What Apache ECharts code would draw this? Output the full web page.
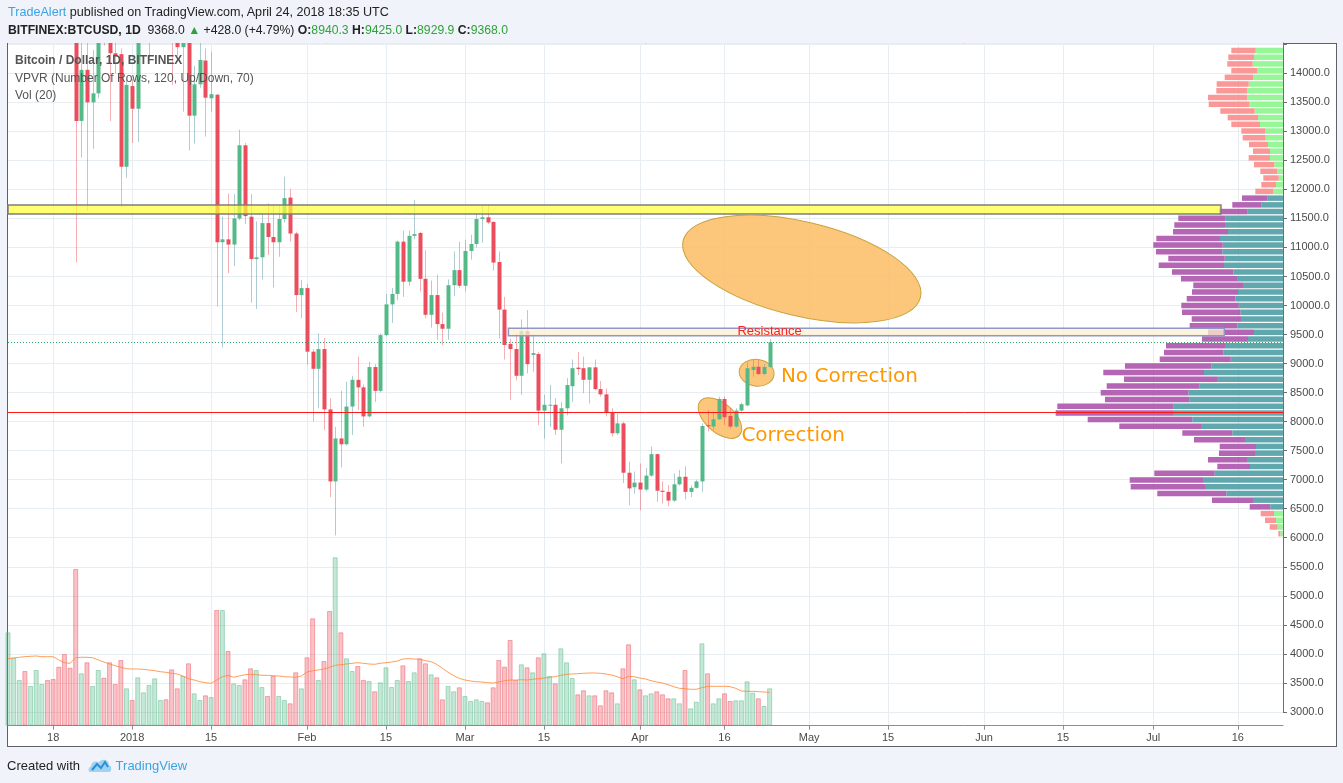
<!DOCTYPE html>
<html>
<head>
<meta charset="utf-8">
<script src="https://cdn.jsdelivr.net/npm/echarts/dist/echarts.min.js"></script>
<style>
html,body{margin:0;padding:0;width:1343px;height:783px;overflow:hidden;background:#f0f3fa;font-family:"Liberation Sans",Arial,sans-serif;}
#box{position:absolute;left:7px;top:43px;width:1328px;height:702px;background:#fff;border:1px solid #5d606b;}
#chart{position:absolute;left:0;top:0;width:1343px;height:783px;}
.hdr{position:absolute;left:8px;color:#222;white-space:nowrap;line-height:16px;}
.g{color:#2fa23a;}
#foot{position:absolute;left:7px;top:757px;font-size:13px;color:#222;white-space:nowrap;line-height:16px;}
#foot .tv{color:#3ba3e3;}
</style>
</head>
<body>
<div id="box"></div>
<div id="chart"></div>
<div class="hdr" style="top:4px;font-size:12.6px"><span style="color:#3ba3e3">TradeAlert</span> published on TradingView.com, April 24, 2018 18:35 UTC</div>
<div class="hdr" style="top:22px;font-size:12.2px"><b>BITFINEX:BTCUSD, 1D</b>&nbsp; 9368.0 <span class="g">&#9650;</span> +428.0 (+4.79%) <b>O:</b><span class="g">8940.3</span> <b>H:</b><span class="g">9425.0</span> <b>L:</b><span class="g">8929.9</span> <b>C:</b><span class="g">9368.0</span></div>
<div id="foot">Created with <svg width="24" height="16" viewBox="0 0 24 16" style="vertical-align:-3px;margin:0 4px 0 4px"><path d="M2 15 C0 15 0 10 3 9.5 C3 5 8 3 11 5.5 C13 1 21 2 21 8 C24 8.5 24 15 21 15 Z" fill="#9fd3f3"/><path d="M4 13 L9 7 L13 11 L17 5 L20 10" stroke="#2b8fd6" stroke-width="2" fill="none"/></svg><span class="tv">TradingView</span></div>
<script>
// ---------------- DATA ----------------
// axis categories: daily from 2017-12-10 to 2018-07-24
const axisStart = '2017-12-10';
const axisDays = 227;
// tick labels on the time axis
const tickDates = ['2017-12-18','2018-01-01','2018-01-15','2018-02-01','2018-02-15','2018-03-01','2018-03-15','2018-04-01','2018-04-16','2018-05-01','2018-05-15','2018-06-01','2018-06-15','2018-07-01','2018-07-16'];
const tickLabels = ['18','2018','15','Feb','15','Mar','15','Apr','16','May','15','Jun','15','Jul','16'];

// daily OHLC, 2017-12-10 .. 2018-04-24 (BITFINEX:BTCUSD)
const open = [15200,15300,16700,17200,16400,16500,17700,19500,19100,18900,17400,16500,15600,13180,14060,13500,13655,15800,15300,14345,14330,12390,
13780,13390,14750,15150,15160,16950,17150,16200,14950,14450,14900,13270,13810,14220,13570,13630,11090,11140,11050,11500,12760,11530,10800,10830,11420,11180,11090,11490,11860,11240,10180,
10300,9205,8910,9250,8210,6970,7710,7610,8260,8720,8590,8090,8940,8530,9490,10020,10200,11100,10410,11200,11250,10460,9840,10180,9680,9600,10350,10610,
10340,10940,11060,11490,11520,11440,10750,9930,9340,9250,8790,9560,9150,9165,8190,8275,8290,7860,8230,8610,8930,8920,8720,8935,8560,8470,8155,7800,7970,7120,6870,
6950,6830,7070,7440,6810,6790,6640,6920,7050,6790,6860,6970,7940,7915,8040,8390,8100,7915,8190,8280,8890,8945,8820,8940.3];
const high = [15800,17400,17500,17300,16900,17900,19600,19900,19200,19000,17800,17300,15800,15400,14600,14400,16500,16500,15500,15000,14430,13900,
13900,15400,15500,15400,17200,17250,17200,16300,15400,14950,14950,14130,14600,14430,14370,13650,11530,11930,11920,13030,12800,11920,11450,11590,11760,11730,11730,12220,12010,11270,10440,
10370,9250,9520,9440,8400,7910,8530,8690,8790,9120,8640,9030,8990,9520,10200,10300,11120,11290,11290,11820,11270,10950,10430,10530,9880,10450,10930,11100,
11130,11220,11590,11730,11730,11450,10930,10150,9430,9530,9760,9920,9510,9200,8460,8630,8400,8340,8750,9070,9200,9120,8940,9070,8700,8570,8230,8140,8000,7310,7140,
7280,7200,7570,7450,6970,6910,7110,7170,7230,6900,7000,7970,8200,8170,8430,8430,8230,8230,8330,9030,9060,9060,8990,9425];
const low = [14700,15100,16500,15800,16000,16300,17500,18800,17900,16800,15600,14800,10740,12550,11630,12700,13570,14480,13180,14000,11700,12200,
12800,12820,14600,14260,14800,16200,15800,13800,14300,13340,12670,12790,13750,12910,13340,9980,9280,10560,10680,11470,11400,10050,9940,10450,10870,10310,10840,11430,11100,9890,9780,
8980,8000,8230,7860,6700,6040,7210,7590,7770,8200,7910,8070,8340,8500,9470,9700,10090,10150,10340,11140,10240,9780,9620,9410,9320,9410,10160,10300,
10240,10790,11000,11080,11400,10600,9430,9070,8370,8710,8460,8830,8860,7940,7710,7910,7770,7280,8110,8340,8800,8490,8310,8540,8430,8090,7740,7770,6940,6560,6760,
6470,6800,7050,6620,6590,6540,6620,6900,6660,6700,6850,6790,7830,7860,8030,7940,7885,7900,8170,8260,8775,8800,8800,8929.9];
const close = [15300,16700,17200,16400,16500,17700,19500,19100,18900,17400,16500,15600,13180,14060,13500,13655,15800,15300,14345,14310,12390,13800,
13390,14750,15150,15160,16950,17150,16200,14950,14450,14900,13270,13810,14230,13580,13640,11090,11140,11050,11500,12760,11540,10800,10830,11420,11180,11090,11490,11850,11240,10180,10300,
9205,8910,9250,8210,6970,7710,7610,8260,8720,8590,8090,8940,8530,9490,10020,10200,11100,10410,11200,11230,10460,9840,10180,9680,9600,10350,10610,10340,
10940,11060,11490,11520,11430,10740,9930,9320,9250,8790,9560,8990,9180,8190,8290,8290,7860,8230,8630,8920,8905,8720,8935,8560,8470,8155,7800,7970,7120,6850,6950,
6830,7070,7440,6810,6790,6640,6920,7050,6790,6860,6970,7925,7920,8040,8390,8075,7915,8190,8300,8920,8945,8820,8940,9368];
// daily volume (relative units) and its 20-day average as drawn
const volume = [93.4,68,45.7,54.7,39.7,55.7,41.7,45.7,46.7,59,71.7,58,156.7,52.4,63.4,39.7,55.7,48,63.4,41.7,65.7,37.4,
25.7,48.4,33.4,40.7,47.4,25.7,26.4,56.4,37.4,49.7,62.4,32.4,25.7,30.4,28.7,115.7,115.7,74.7,42.4,40.7,46.4,57.4,55.7,38.7,29.7,49.7,29.7,25.7,22.4,53.4,37.4,
68.4,107.4,45.7,64.7,114.7,168.4,93.4,67.4,54.7,59.7,45.7,44.7,34.4,43.4,58.4,38.7,45.7,60.4,44.7,53.4,67.4,62.4,51.4,48.4,26.4,39.7,34.4,38.4,
29.7,24.7,26.4,24.7,23.4,38.4,65.7,59,85.7,45.7,61.4,58.4,53.4,68.4,72.4,49.7,42.4,77.4,63.4,47.7,31.4,35.4,30.4,30.4,20.4,35.4,33.4,22.4,57.4,81.4,46.4,
36.4,30.4,32.4,34.4,31.4,27.4,27.4,22.4,55.7,17.4,24,82.4,52.4,22.4,27.4,32.4,24.7,25.4,25.4,44.4,33,27.4,19.7,37.4];
const volMA = [67.0,67.7,68.4,69.0,69.4,69.7,69.0,69.0,69.0,65.7,63.0,62.4,68.0,68.4,68.4,68.0,65.7,63.7,61.7,60.0,58.4,57.0,
56.7,56.7,56.4,55.7,55.0,54.0,53.4,52.4,51.7,49.7,47.0,45.7,44.0,43.0,42.4,45.7,49.0,50.4,48.4,49.7,51.0,51.4,51.0,50.4,50.4,50.0,49.7,49.0,48.7,48.4,49.7,
53.7,55.0,55.7,56.7,58.4,60.4,61.0,61.7,62.4,63.0,62.4,61.7,61.4,62.4,63.0,63.7,64.7,66.7,67.0,66.7,66.4,65.0,64.0,61.4,57.4,53.4,50.0,47.4,
45.7,44.7,44.0,43.7,43.0,42.7,43.7,45.0,45.7,45.7,46.0,45.7,46.4,47.0,47.7,48.4,49.0,50.4,51.4,51.7,52.0,52.4,52.7,52.7,52.4,51.7,50.7,49.0,47.0,49.4,49.0,
47.7,46.7,45.0,43.7,42.7,41.0,39.0,37.4,37.0,36.4,36.4,38.0,39.4,39.4,39.4,39.4,39.0,37.4,34.7,34.4,34.4,34.0,33.7,33.4];
// volume profile (VPVR) rows, top row first: up volume and down volume
const vpTopPrice = 14393, vpRowStep = 115.6;
const vpUp = [27.3,29,30.3,26,30,34.3,35.7,35.7,34,28.3,25,23,18,17.3,15,13,13,8.7,6,4.3,7,9.7,
15.3,21.3,35.3,57.3,58,55,63,60.3,60.7,58.3,59,49.7,46,40,45,47.7,44.3,42.7,42,45.7,29,35,58,59.7,52.3,71.7,79,66,83.3,94.7,93.3,109.3,110,90.7,82,50.7,38,27,28,36,33,68.3,80,78,56.7,30,12.7,
9,7,5.3,2.7];
const vpDown = [24.4,25.7,25.4,25.7,28.3,32,31,39.3,40.3,34.4,30.3,28.7,23.7,23,19,17,21.3,20.3,16.7,15.4,14.7,18,
25.7,29.4,28.7,47.4,50.7,55,63.7,69.4,66.3,56.4,65.3,61.3,56,49.7,46,48.6,57.4,58.3,49.3,47.6,46,46,59,59.3,71,86.3,100.7,93,93,87.6,84.7,116.4,117.3,104.6,81.7,50,51,36.3,36,39,32.7,60.4,73.3,74.3,69,41,20.6,
13.3,11,8,2];
const vpValueArea = [22, 68]; // first and last row (top-indexed) inside the 70% value area
// drawings
const pocPrice = 8165;
const lastPrice = 9368;
const yellowZone = {from: 0, to: 215, top: 11731, bottom: 11576};
const resistZone = {from: 88.7, to: 215.6, top: 9607, bottom: 9480, label: 'Resistance', labelAt: 135, labelPrice: 9552};
const bigEllipse = {at: 140.7, price: 10629};
const corrEllipse = {at: 126.2, price: 8062};
const noCorrEllipse = {at: 132.7, price: 8842};
const corrText = {at: 130, price: 7752, text: 'Correction'};
const noCorrText = {at: 137, price: 8768, text: 'No Correction'};

// ---------------- CHART ----------------
const catDates = [];
(function(){ const t0 = Date.parse(axisStart + 'T00:00:00Z'); for (let i = 0; i < axisDays; i++) catDates.push(new Date(t0 + i*86400000).toISOString().slice(0,10)); })();
const tickSet = new Set(tickDates);
const isTick = (idx, val) => tickSet.has(val);
const labelFor = v => { const k = tickDates.indexOf(v); return k >= 0 ? tickLabels[k] : ''; };

const UP = '#53b987', DOWN = '#eb4d5c';
const UPW = 'rgba(110,160,175,0.55)', DOWNW = 'rgba(235,77,92,0.45)';
const candleData = open.map((o, i) => [i, o, close[i], low[i], high[i]]);
const vpData = vpUp.map((u, k) => [k, u, vpDown[k]]);

const chart = echarts.init(document.getElementById('chart'), null, {renderer: 'canvas'});
const axisFont = '"Liberation Sans", Arial, sans-serif';
const option = {
  animation: false,
  backgroundColor: 'transparent',
  grid: [
    {left: 8, right: 60, top: 43, bottom: 71.1},
    {left: 8, right: 60, top: 43, bottom: 57.3}
  ],
  xAxis: [
    {type: 'category', gridIndex: 0, data: catDates, boundaryGap: false, show: false},
    {type: 'category', gridIndex: 1, data: catDates, boundaryGap: false,
      axisLine: {show: true, lineStyle: {color: '#8b8e96'}},
      axisTick: {show: true, interval: isTick, length: 4, lineStyle: {color: '#8b8e96'}},
      axisLabel: {interval: isTick, formatter: labelFor, color: '#4a4a4a', fontSize: 11, fontFamily: axisFont, margin: 7},
      splitLine: {show: true, interval: isTick, lineStyle: {color: '#e8edf2', width: 1}}},
    {type: 'value', gridIndex: 0, position: 'top', min: 0, max: 1275, inverse: true, show: false}
  ],
  yAxis: [
    {type: 'value', gridIndex: 0, position: 'right', min: 3000, max: 14522, interval: 500, scale: true,
      axisLine: {show: true, lineStyle: {color: '#6b6e76'}},
      axisTick: {show: true, length: 4, lineStyle: {color: '#6b6e76'}},
      axisLabel: {color: '#4a4a4a', fontSize: 11, fontFamily: axisFont, margin: 7,
        formatter: v => v > 14000 ? '' : v.toFixed(1)},
      splitLine: {show: true, lineStyle: {color: '#e8edf2', width: 1}}},
    {type: 'value', gridIndex: 1, min: 0, max: 682.7, show: false}
  ],
  series: [
    {type: 'custom', name: 'VPVR', xAxisIndex: 2, yAxisIndex: 0, z: 3, data: vpData,
      renderItem: function (params, api) {
        const k = api.value(0), u = api.value(1), d = api.value(2);
        const center = vpTopPrice - k * vpRowStep;
        const pt = center + vpRowStep * 0.41, pb = center - vpRowStep * 0.41;
        const r = api.coord([0, pt]);
        const ue = api.coord([u, pb]);
        const te = api.coord([u + d, pb]);
        const inVA = k >= vpValueArea[0] && k <= vpValueArea[1];
        const h = ue[1] - r[1];
        return {type: 'group', children: [
          {type: 'rect', shape: {x: ue[0], y: r[1], width: r[0] - ue[0], height: h},
            style: {fill: inVA ? 'rgba(80,158,165,0.9)' : 'rgba(140,245,140,0.9)'}},
          {type: 'rect', shape: {x: te[0], y: r[1], width: ue[0] - te[0], height: h},
            style: {fill: inVA ? 'rgba(170,80,170,0.88)' : 'rgba(250,140,140,0.9)'}}
        ]};
      }},
    {type: 'bar', name: 'Vol', xAxisIndex: 1, yAxisIndex: 1, barWidth: 5, z: 2,
      data: volume.map((v, i) => ({value: v, itemStyle: close[i] >= open[i]
        ? {color: 'rgba(83,185,135,0.34)', borderColor: 'rgba(83,185,135,0.45)', borderWidth: 1}
        : {color: 'rgba(235,77,92,0.34)', borderColor: 'rgba(235,77,92,0.45)', borderWidth: 1}}))},
    {type: 'line', name: 'Vol MA', xAxisIndex: 1, yAxisIndex: 1, data: volMA, symbol: 'none', z: 3,
      lineStyle: {color: 'rgba(255,140,60,0.85)', width: 1}},
    {type: 'custom', name: 'BTCUSD', xAxisIndex: 0, yAxisIndex: 0, z: 5, clip: true, data: candleData,
      renderItem: function (params, api) {
        const i = api.value(0), o = api.value(1), c = api.value(2), l = api.value(3), hh = api.value(4);
        const po = api.coord([i, o]), pc = api.coord([i, c]), pl = api.coord([i, l]), ph = api.coord([i, hh]);
        const up = c >= o;
        const x = Math.round(po[0]);
        const top = Math.min(po[1], pc[1]);
        const bh = Math.max(1, Math.abs(po[1] - pc[1]));
        return {type: 'group', children: [
          {type: 'line', shape: {x1: x + 0.5, y1: ph[1], x2: x + 0.5, y2: pl[1]}, style: {stroke: up ? UPW : DOWNW, lineWidth: 1}},
          {type: 'rect', shape: {x: x - 1.5, y: top, width: 4, height: bh}, style: {fill: up ? UP : DOWN}}
        ]};
      }}
  ]
};
chart.setOption(option);

// ---------------- DRAWINGS (placed through the axes) ----------------
const CS = {seriesIndex: 3};
function toPx(idx, price) {
  const i0 = Math.floor(idx), f = idx - i0;
  const a = chart.convertToPixel(CS, [i0, price]);
  if (f === 0) return a;
  const b = chart.convertToPixel(CS, [i0 + 1, price]);
  return [a[0] + (b[0] - a[0]) * f, a[1]];
}
const xL = toPx(0, 10000)[0], xR = toPx(axisDays - 1, 10000)[0];
const g = [];
// yellow zone
(function(){
  const a = toPx(yellowZone.from, yellowZone.top), b = toPx(yellowZone.to, yellowZone.bottom);
  g.push({type: 'rect', z: 20, shape: {x: a[0], y: a[1], width: b[0] - a[0], height: b[1] - a[1]},
    style: {fill: 'rgba(255,255,60,0.72)', stroke: '#7d7d7d', lineWidth: 1.5}});
})();
// resistance zone
(function(){
  const a = toPx(resistZone.from, resistZone.top), b = toPx(resistZone.to, resistZone.bottom);
  g.push({type: 'rect', z: 20, shape: {x: a[0], y: a[1], width: b[0] - a[0], height: b[1] - a[1]},
    style: {fill: 'rgba(253,240,210,0.75)', stroke: '#8d98c8', lineWidth: 1.5}});
  const t = toPx(resistZone.labelAt, resistZone.labelPrice);
  g.push({type: 'text', z: 22, x: t[0], y: t[1], style: {text: resistZone.label, fill: '#ff2020',
    font: '13px "Liberation Sans", Arial, sans-serif', textAlign: 'center', textVerticalAlign: 'middle'}});
})();
// POC line and last price line
(function(){
  const y1 = toPx(0, pocPrice)[1];
  g.push({type: 'line', z: 21, shape: {x1: xL, y1: Math.round(y1) + 0.5, x2: xR, y2: Math.round(y1) + 0.5}, style: {stroke: '#ff1a1a', lineWidth: 1}});
  const y2 = toPx(0, lastPrice)[1];
  g.push({type: 'line', z: 21, shape: {x1: xL, y1: Math.round(y2) + 0.5, x2: xR, y2: Math.round(y2) + 0.5}, style: {stroke: '#2ea56b', lineWidth: 1, lineDash: [1, 2]}});
})();
// ellipses
function ell(def, rx, ry, rot, z) {
  const p = toPx(def.at, def.price);
  g.push({type: 'ellipse', z: z, x: p[0], y: p[1], rotation: rot, shape: {cx: 0, cy: 0, rx: rx, ry: ry},
    style: {fill: 'rgba(252,190,105,0.88)', stroke: '#c9a23e', lineWidth: 1}});
}
ell(bigEllipse, 122, 47, -0.234, 20);
ell(corrEllipse, 26, 14.5, -0.72, 1);
ell(noCorrEllipse, 17.5, 13.3, -0.12, 1);
function txt(def) {
  const p = toPx(def.at, def.price);
  g.push({type: 'text', z: 22, x: p[0], y: p[1], style: {text: def.text, fill: '#ff9800',
    font: '20px "DejaVu Sans", Verdana, sans-serif', textAlign: 'left', textVerticalAlign: 'middle'}});
}
txt(corrText); txt(noCorrText);
// pane legends
const legendFont = '"Liberation Sans", Arial, sans-serif';
g.push({type: 'text', z: 30, x: 15, y: 61, style: {text: 'Bitcoin / Dollar, 1D, BITFINEX', fill: '#555', font: 'bold 12px ' + legendFont, textVerticalAlign: 'middle'}});
g.push({type: 'text', z: 30, x: 15, y: 78.5, style: {text: 'VPVR (Number Of Rows, 120, Up/Down, 70)', fill: '#555', font: '12px ' + legendFont, textVerticalAlign: 'middle'}});
g.push({type: 'text', z: 30, x: 15, y: 96, style: {text: 'Vol (20)', fill: '#555', font: '12px ' + legendFont, textVerticalAlign: 'middle'}});
chart.setOption({graphic: {elements: g}});
</script>
</body>
</html>
